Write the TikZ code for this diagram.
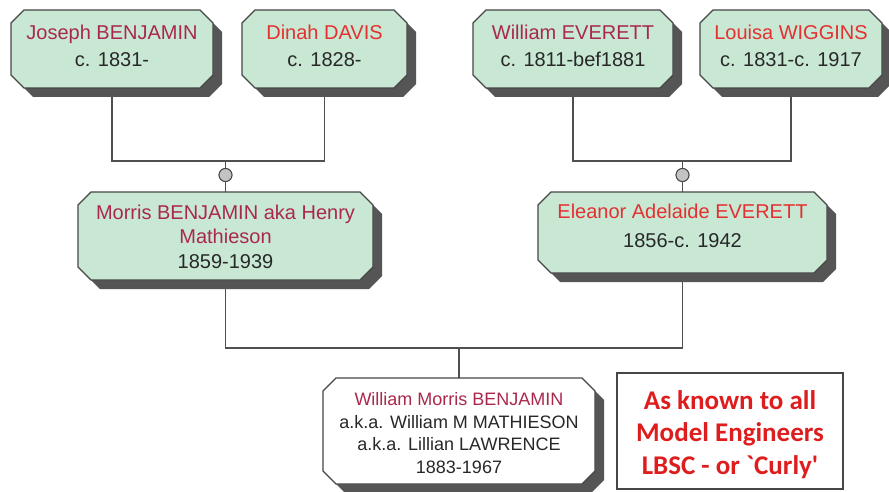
\documentclass[tikz,border=0pt]{standalone}
\usepackage{fontspec}
\setmainfont{Liberation Sans}
\newfontfamily\calibfont{Carlito}
\usetikzlibrary{calc}
\definecolor{boxgreen}{RGB}{200,232,212}
\definecolor{edgecol}{RGB}{70,70,70}
\definecolor{shadecol}{RGB}{85,85,85}
\definecolor{maroonname}{RGB}{170,40,75}
\definecolor{redname}{RGB}{228,48,48}
\definecolor{datecol}{RGB}{40,40,40}
\definecolor{lbscred}{RGB}{222,30,30}
\definecolor{conncol}{RGB}{80,80,80}
\definecolor{marrfill}{RGB}{195,195,195}
\newcommand\octbox[2]{%
  \fill[shadecol] ($(#1.north west)+(22,9)$) -- ($(#1.north east)+(-4,9)$) -- ($(#1.north east)+(9,22)$) -- ($(#1.south east)+(9,-4)$) -- ($(#1.south east)+(-4,9)$) -- ($(#1.south west)+(22,9)$) -- ($(#1.south west)+(9,-4)$) -- ($(#1.north west)+(9,22)$) -- cycle;
  \filldraw[fill=#2, draw=edgecol, line width=1.1pt] ($(#1.north west)+(13,0)$) -- ($(#1.north east)+(-13,0)$) -- ($(#1.north east)+(0,13)$) -- ($(#1.south east)+(0,-13)$) -- ($(#1.south east)+(-13,0)$) -- ($(#1.south west)+(13,0)$) -- ($(#1.south west)+(0,-13)$) -- ($(#1.north west)+(0,13)$) -- cycle;
}
\begin{document}
\begin{tikzpicture}[x=1pt,y=-1pt,
  boxnode/.style={rectangle, inner sep=0pt, outer sep=0pt},
  toptext/.style={align=center, inner sep=0pt, font=\fontsize{20}{27}\selectfont},
  conn/.style={draw=conncol, line width=1.3pt},
  marr/.style={circle, draw=edgecol, fill=marrfill, line width=0.9pt, minimum size=13pt, inner sep=0pt}]
\useasboundingbox (0,0) rectangle (889,492);
\fill[white] (0,0) rectangle (889,492);
% invisible box frames
\node[boxnode, minimum width=202, minimum height=78] (jb) at (112,49) {};
\node[boxnode, minimum width=165, minimum height=78] (dd) at (324.5,49) {};
\node[boxnode, minimum width=200, minimum height=78] (we) at (573,49) {};
\node[boxnode, minimum width=182, minimum height=78] (lw) at (791,49) {};
\node[boxnode, minimum width=295, minimum height=88] (mb) at (225.5,236) {};
\node[boxnode, minimum width=289, minimum height=81] (ee) at (682.5,232.5) {};
\node[boxnode, minimum width=272, minimum height=106] (wmb) at (459,431) {};
% connectors
\coordinate (c1) at (225.5,161);
\coordinate (c2) at (682.5,161);
\coordinate (c3) at (459,348);
\node[marr] (m1) at (225.5,175) {};
\node[marr] (m2) at (682.5,175) {};
\draw[conn] (jb.south) |- (c1) -| (dd.south);
\draw[conn] (we.south) |- (c2) -| (lw.south);
\draw[conn] (c1) -- (m1) -- (mb.north);
\draw[conn] (c2) -- (m2) -- (ee.north);
\draw[conn] (mb.south) |- (c3) -| (ee.south);
\draw[conn] (c3) -- (wmb.north);
\node[marr] at (m1) {};
\node[marr] at (m2) {};
% boxes
\octbox{jb}{boxgreen}
\octbox{dd}{boxgreen}
\octbox{we}{boxgreen}
\octbox{lw}{boxgreen}
\octbox{mb}{boxgreen}
\octbox{ee}{boxgreen}
\octbox{wmb}{white}
% texts
\node[toptext] (jbt) at (112,45.5) {\textcolor{maroonname}{Joseph BENJAMIN}\\\textcolor{datecol}{c. 1831-}};
\node[toptext] (ddt) at (324.5,45.5) {\textcolor{redname}{Dinah DAVIS}\\\textcolor{datecol}{c. 1828-}};
\node[toptext] (wet) at (573,45.5) {\textcolor{maroonname}{William EVERETT}\\\textcolor{datecol}{c. 1811-bef1881}};
\node[toptext] (lwt) at (791,45.5) {\textcolor{redname}{Louisa WIGGINS}\\\textcolor{datecol}{c. 1831-c. 1917}};
\node[toptext, font=\fontsize{20}{24.5}\selectfont] (mbt) at (225.5,236.4) {\textcolor{maroonname}{Morris BENJAMIN aka Henry}\\\textcolor{maroonname}{Mathieson}\\\textcolor{datecol}{1859-1939}};
\node[toptext, font=\fontsize{20}{29}\selectfont] (eet) at (682.5,225.4) {\textcolor{redname}{Eleanor Adelaide EVERETT}\\\textcolor{datecol}{1856-c. 1942}};
\node[toptext, font=\fontsize{18}{22.7}\selectfont] (wmbt) at (459,433) {\textcolor{maroonname}{William Morris BENJAMIN}\\\textcolor{datecol}{a.k.a. William M MATHIESON}\\\textcolor{datecol}{a.k.a. Lillian LAWRENCE}\\\textcolor{datecol}{1883-1967}};
% note
\node[draw=edgecol, line width=1.1pt, fill=white, minimum width=226, minimum height=116, inner sep=0pt] (note) at (730,431) {};
\node[align=center, inner sep=0pt, text=lbscred, font=\calibfont\bfseries\fontsize{27}{32.5}\selectfont] (notet) at (730,434.5) {As known to all\\Model Engineers\\LBSC - or `Curly'};
\end{tikzpicture}
\end{document}
